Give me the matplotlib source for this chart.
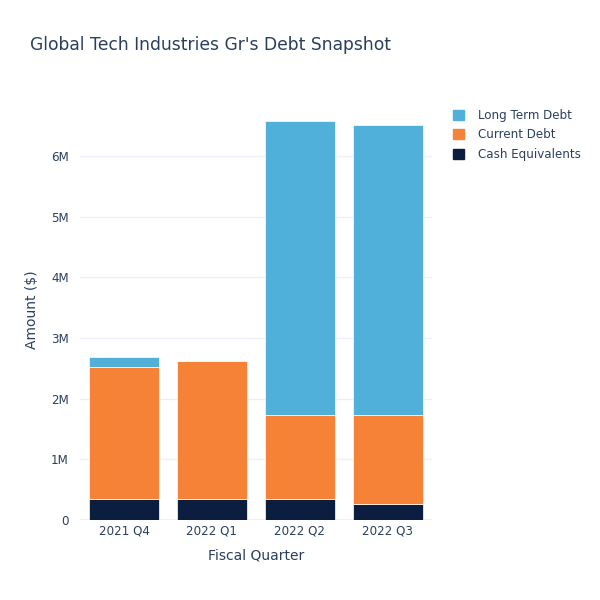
import numpy as np
import matplotlib
matplotlib.use("Agg")
import matplotlib.pyplot as plt
from matplotlib.patches import Patch
from matplotlib.ticker import FuncFormatter

quarters = ["2021 Q4", "2022 Q1", "2022 Q2", "2022 Q3"]
cash_equivalents = [0.353e6, 0.353e6, 0.353e6, 0.27e6]
current_debt = [2.174e6, 2.267e6, 1.383e6, 1.46e6]
long_term_debt = [0.153e6, 0.0, 4.834e6, 4.77e6]

c_lt = '#51b0d9'
c_cur = '#f58236'
c_cash = '#0b1e3f'
txt = '#2a3f5f'

plt.rcParams['font.family'] = ['DejaVu Sans']
fig = plt.figure(figsize=(6, 6), dpi=100)
ax = fig.add_axes([80/600, 80/600, 352/600, 420/600])

x = np.arange(len(quarters))
cash = np.array(cash_equivalents)
cur = np.array(current_debt)
lt = np.array(long_term_debt)
ax.bar(x, cash, width=0.8, color=c_cash, edgecolor='white', linewidth=0.5, zorder=3)
ax.bar(x, cur, width=0.8, bottom=cash, color=c_cur, edgecolor='white', linewidth=0.5, zorder=3)
ax.bar(x, lt, width=0.8, bottom=cash + cur, color=c_lt, edgecolor='white', linewidth=0.5, zorder=3)

ax.set_xlim(-0.5, 3.5)
ax.set_ylim(0, 6.92e6)
ax.set_yticks(np.arange(0, 7e6, 1e6))
ax.yaxis.set_major_formatter(FuncFormatter(lambda v, p: '0' if v == 0 else f'{int(v/1e6)}M'))
ax.set_xticks(x)
ax.set_xticklabels(quarters)
ax.grid(axis='y', color='#ebf0f8', linewidth=1, zorder=0)
ax.axhline(0, color='#ebf0f8', linewidth=2, zorder=1)
for s in ax.spines.values():
    s.set_visible(False)
ax.tick_params(length=0, labelsize=8.6, colors=txt, pad=3)
ax.tick_params(axis='y', pad=8)

ax.set_xlabel('Fiscal Quarter', fontsize=10, color=txt, labelpad=8)
ax.set_ylabel('Amount ($)', fontsize=10, color=txt, labelpad=9)
fig.text(30/600, 1 - 45/600, "Global Tech Industries Gr's Debt Snapshot",
         fontsize=12.3, color=txt, va='center', ha='left')

handles = [Patch(color=c_lt, label='Long Term Debt'),
           Patch(color=c_cur, label='Current Debt'),
           Patch(color=c_cash, label='Cash Equivalents')]
fig.legend(handles=handles, loc='upper left', bbox_to_anchor=(442/600, 1 - 98/600),
           frameon=False, fontsize=8.6, labelcolor=txt, handlelength=0.9,
           handleheight=0.9, handletextpad=1.2, labelspacing=0.55)

fig.savefig('out.png', dpi=100)
